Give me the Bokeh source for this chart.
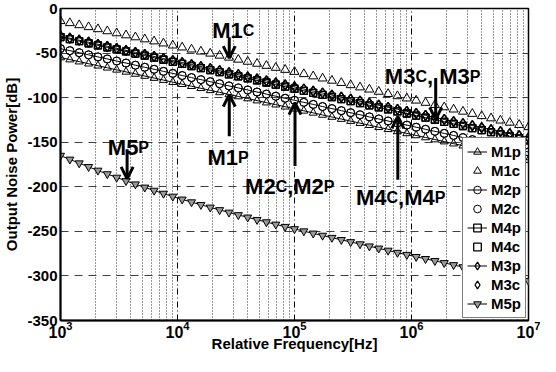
from bokeh.plotting import figure
from bokeh.models import (Range1d, FixedTicker, Label, Arrow, OpenHead, Legend, LegendItem)
from bokeh.embed import file_html
from bokeh.resources import INLINE

# ---------------- data ----------------
freq = [1000, 1202, 1445, 1738, 2089, 2512, 3020, 3631, 4365, 5248,
        6310, 7586, 9120, 10960, 13180, 15850, 19050, 22910, 27540, 33110,
        39810, 47860, 57540, 69180, 83180, 100000, 120200, 144500, 173800, 208900,
        251200, 302000, 363100, 436500, 524800, 631000, 758600, 912000, 1096000, 1318000,
        1585000, 1905000, 2291000, 2754000, 3311000, 3981000, 4786000, 5754000, 6918000, 8318000,
        10000000]

m1c = [-14.0, -16.3, -18.6, -20.8, -23.1, -25.4, -27.7, -30.0, -32.2, -34.5,
       -36.8, -39.1, -41.4, -43.6, -45.9, -48.2, -50.5, -52.8, -55.0, -57.3,
       -59.6, -61.9, -64.2, -66.4, -68.7, -71.0, -73.5, -76.0, -78.4, -80.9,
       -83.4, -85.9, -88.4, -90.8, -93.3, -95.8, -98.3, -100.8, -103.2, -105.7,
       -108.2, -110.7, -113.2, -115.6, -118.1, -120.6, -123.1, -125.6, -128.0, -130.5,
       -133.0]

m4p = [-32.0, -34.3, -36.6, -39.0, -41.3, -43.6, -45.9, -48.2, -50.6, -52.9,
       -55.2, -57.5, -59.8, -62.2, -64.5, -66.8, -69.1, -71.4, -73.8, -76.1,
       -78.4, -80.7, -83.0, -85.4, -87.7, -90.0, -92.3, -94.6, -97.0, -99.3,
       -101.6, -103.9, -106.2, -108.6, -110.9, -113.2, -115.5, -117.8, -120.2, -122.5,
       -124.8, -127.1, -129.4, -131.8, -134.1, -136.4, -138.7, -141.0, -143.4, -145.7,
       -148.0]

m3p = [-31.0, -33.3, -35.6, -37.8, -40.1, -42.4, -44.7, -47.0, -49.2, -51.5,
       -53.8, -56.1, -58.4, -60.6, -62.9, -65.2, -67.5, -69.8, -72.0, -74.3,
       -76.6, -78.9, -81.2, -83.4, -85.7, -88.0, -90.3, -92.6, -94.8, -97.1,
       -99.4, -101.7, -104.0, -106.2, -108.5, -110.8, -113.1, -115.4, -117.6, -119.9,
       -122.2, -124.5, -126.8, -129.0, -131.3, -133.6, -135.9, -138.2, -140.4, -142.7,
       -145.0]

m2p = [-45.0, -47.3, -49.6, -52.0, -54.3, -56.6, -58.9, -61.2, -63.6, -65.9,
       -68.2, -70.5, -72.8, -75.2, -77.5, -79.8, -82.1, -84.4, -86.8, -89.1,
       -91.4, -93.7, -96.0, -98.4, -100.7, -103.0, -105.3, -107.6, -110.0, -112.3,
       -114.6, -116.9, -119.2, -121.6, -123.9, -126.2, -128.5, -130.8, -133.2, -135.5,
       -137.8, -140.1, -142.4, -144.8, -147.1, -149.4, -151.7, -154.0, -156.4, -158.7,
       -161.0]

m1p = [-55.0, -57.3, -59.6, -61.9, -64.2, -66.5, -68.8, -71.1, -73.4, -75.7,
       -78.0, -80.3, -82.6, -84.9, -87.2, -89.5, -91.8, -94.1, -96.4, -98.7,
       -101.0, -103.3, -105.6, -107.9, -110.2, -112.5, -114.8, -117.1, -119.4, -121.7,
       -124.0, -126.3, -128.6, -130.9, -133.2, -135.5, -137.8, -140.1, -142.4, -144.7,
       -147.0, -149.3, -151.6, -153.9, -156.2, -158.5, -160.8, -163.1, -165.4, -167.7,
       -170.0]

m5p = [-165.0, -169.3, -173.5, -177.6, -181.7, -185.7, -189.6, -193.4, -197.1, -200.7,
       -204.2, -207.6, -210.9, -214.1, -217.2, -220.2, -223.1, -226.0, -228.8, -231.6,
       -234.3, -237.0, -239.6, -242.2, -244.8, -247.3, -249.8, -252.3, -254.7, -257.1,
       -259.5, -261.9, -264.3, -266.7, -269.1, -271.5, -273.9, -276.2, -278.5, -280.8,
       -283.1, -285.4, -287.7, -290.0, -292.3, -294.6, -296.8, -299.0, -301.2, -303.4,
       -305.6]

m2c = list(m2p)
m4c = list(m4p)
m3c = list(m3p)

x_ticks = [1e3, 1e4, 1e5, 1e6, 1e7]
x_minor = [m * d for d in [1e3, 1e4, 1e5, 1e6] for m in [2, 3, 4, 5, 6, 7, 8, 9]]
y_ticks = [-350, -300, -250, -200, -150, -100, -50, 0]

FONT = "Liberation Sans"

# ---------------- figure ----------------
p = figure(width=540, height=356, x_axis_type="log",
           x_range=Range1d(1e3, 1e7), y_range=Range1d(-350, 0),
           output_backend="svg", toolbar_location=None,
           min_border_left=57, min_border_right=12, min_border_top=8, min_border_bottom=36)

p.outline_line_color = "black"
p.outline_line_width = 1.5
p.outline_line_alpha = 1.0

p.xaxis.ticker = FixedTicker(ticks=x_ticks, minor_ticks=x_minor)
p.xaxis.major_label_text_font = FONT
p.xaxis.major_label_text_font_style = "bold"
p.xaxis.major_label_text_font_size = "16px"
p.xaxis.major_label_text_color = "black"
p.xaxis.major_label_standoff = 0
p.xaxis.axis_label = "Relative Frequency[Hz]"
p.xaxis.axis_label_text_font = FONT
p.xaxis.axis_label_text_font_style = "bold"
p.xaxis.axis_label_text_font_size = "15px"
p.xaxis.axis_label_text_color = "black"
p.xaxis.axis_label_standoff = -6
p.xaxis.axis_line_width = 2
p.xaxis.major_tick_in = 0
p.xaxis.major_tick_out = 0
p.xaxis.minor_tick_in = 0
p.xaxis.minor_tick_out = 0

p.yaxis.ticker = FixedTicker(ticks=y_ticks)
p.yaxis.major_label_overrides = {t: str(t) for t in y_ticks}
p.yaxis.major_label_text_font = FONT
p.yaxis.major_label_text_font_style = "bold"
p.yaxis.major_label_text_font_size = "15px"
p.yaxis.major_label_text_color = "black"
p.yaxis.major_label_standoff = 3
p.yaxis.axis_line_width = 2
p.yaxis.major_tick_in = 0
p.yaxis.major_tick_out = 0
p.yaxis.minor_tick_in = 0
p.yaxis.minor_tick_out = 0
p.yaxis.axis_label = "Output Noise Power[dB]"
p.yaxis.axis_label_text_font = FONT
p.yaxis.axis_label_text_font_style = "bold"
p.yaxis.axis_label_text_font_size = "15px"
p.yaxis.axis_label_text_color = "black"
p.yaxis.axis_label_standoff = 4

p.xgrid.grid_line_color = "black"
p.xgrid.grid_line_dash = "6 3 1 3"
p.xgrid.grid_line_width = 1
p.xgrid.minor_grid_line_color = "black"
p.xgrid.minor_grid_line_dash = "1 2"
p.xgrid.minor_grid_line_width = 1
p.xgrid.minor_grid_line_alpha = 0.8
p.ygrid.grid_line_color = "#404040"
p.ygrid.grid_line_dash = "8 6"
p.ygrid.grid_line_width = 1

# ---------------- series ----------------
def series(y, marker, size, fill=None, with_line=True, lw=1.0):
    rs = []
    if with_line:
        rs.append(p.line(freq, y, line_color="black", line_width=1))
    rs.append(p.scatter(freq, y, marker=marker, size=size, line_color="black",
                        line_width=lw, fill_color=fill))
    return rs

r_m1p = series(m1p, "triangle", 8)
r_m1c = series(m1c, "triangle", 9, with_line=False)
r_m2p = series(m2p, "circle", 8)
r_m2c = series(m2c, "circle", 8, with_line=False)
r_m4p = series(m4p, "square", 7, lw=1.3)
r_m4c = series(m4c, "square", 7, with_line=False, lw=1.3)
r_m3p = series(m3p, "diamond", 10, lw=1.3)
r_m3c = series(m3c, "diamond", 10, with_line=False, lw=1.3)
r_m5p = series(m5p, "inverted_triangle", 8, fill="#9a9a9a")

legend = Legend(items=[
    LegendItem(label="M1p", renderers=r_m1p),
    LegendItem(label="M1c", renderers=r_m1c),
    LegendItem(label="M2p", renderers=r_m2p),
    LegendItem(label="M2c", renderers=r_m2c),
    LegendItem(label="M4p", renderers=r_m4p),
    LegendItem(label="M4c", renderers=r_m4c),
    LegendItem(label="M3p", renderers=r_m3p),
    LegendItem(label="M3c", renderers=r_m3c),
    LegendItem(label="M5p", renderers=r_m5p),
], location="bottom_right")
legend.label_text_font = FONT
legend.label_text_font_style = "bold"
legend.label_text_font_size = "15px"
legend.label_text_color = "black"
legend.glyph_width = 20
legend.glyph_height = 19
legend.label_height = 19
legend.spacing = 0
legend.padding = 4
legend.margin = 2
legend.label_standoff = 4
legend.border_line_color = "black"
legend.border_line_width = 1.5
legend.background_fill_color = "white"
legend.background_fill_alpha = 1.0
p.add_layout(legend)

# ---------------- annotation texts ----------------
BIG, SMALL = "22px", "16px"
W_SMALL = 11.5  # px width of the small capital


def txt(x, y, text, size, align="left", dx=0):
    p.add_layout(Label(x=x, y=y, text=text, text_font=FONT, text_font_style="bold",
                       text_font_size=size, text_align=align, text_baseline="alphabetic",
                       text_color="black", x_offset=dx))


def tag(x, y, n, small1, small2=None, sep=","):
    # "Mn" big, small capital, optionally ",Mn" big and second small capital
    txt(x, y, "M" + n, BIG, "right")
    txt(x, y, small1, SMALL, "left")
    if small2:
        mid = sep + "M" + n
        txt(x, y, mid, BIG, "left", W_SMALL)
        w_mid = {",": 36.7, ", ": 42.8}[sep]
        txt(x, y, small2, SMALL, "left", W_SMALL + w_mid)


tag(3.61e4, -24.4, "1", "C")
tag(3.29e4, -167.0, "1", "P")
tag(6.90e4, -200.0, "2", "C", "P", ",")
tag(1.08e6, -76.3, "3", "C", "P", ", ")
tag(6.12e5, -211.5, "4", "C", "P", ",")
tag(4.63e3, -155.9, "5", "P")

# ---------------- arrows ----------------
def arrow(x, y0, y1):
    p.add_layout(Arrow(end=OpenHead(size=12, line_width=3, line_color="black"),
                       x_start=x, y_start=y0, x_end=x, y_end=y1,
                       line_width=3, line_color="black"))

arrow(2.77e4, -32.2, -55.6)     # M1c
arrow(2.77e4, -143.3, -96.7)    # M1p
arrow(1.01e5, -176.7, -105.6)   # M2
arrow(1.61e6, -78.1, -124.4)    # M3
arrow(7.64e5, -192.2, -121.1)   # M4
arrow(3.71e3, -157.8, -191.1)   # M5

open("out.html", "w").write(file_html(p, INLINE))
